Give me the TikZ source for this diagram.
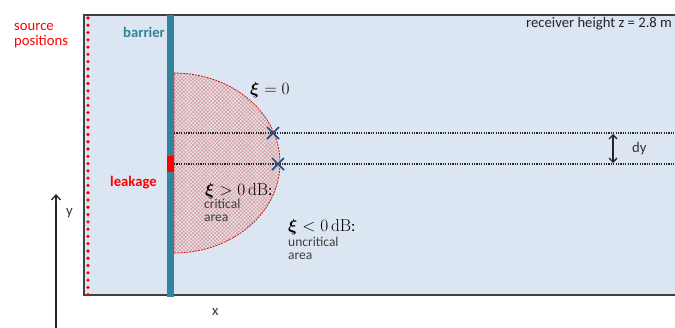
\documentclass[tikz,border=0pt]{standalone}
\usepackage[no-math]{fontspec}
\setmainfont{Carlito}
\usepackage{bm}
\usetikzlibrary{arrows.meta,patterns.meta}
\definecolor{bgblue}{HTML}{DCE6F2}
\definecolor{framegray}{HTML}{404040}
\definecolor{barrierteal}{HTML}{31849B}
\definecolor{crossblue}{HTML}{1F497D}
\definecolor{txtgray}{HTML}{404040}
\definecolor{hatchred}{HTML}{CF9AA1}
\definecolor{hatchbg}{HTML}{ECE2E5}
\tikzset{
  lbl/.style={inner sep=0pt, anchor=base west, font=\fontsize{14.67}{16}\selectfont},
  smalllbl/.style={inner sep=0pt, anchor=base west, font=\fontsize{13.5}{14}\selectfont},
  lblbold/.style={lbl, font=\fontsize{14.67}{16}\selectfont\bfseries},
  mathlbl/.style={inner sep=0pt, anchor=base west, font=\fontsize{16}{18}\selectfont},
  dotline/.style={draw=black!85, line width=1.2pt, dash pattern=on 1.2pt off 1.2pt},
  crossmark/.style={draw=crossblue, line width=1.6pt},
  axisarrow/.style={draw=black!85, line width=1.3pt, -{Straight Barb[length=5pt,width=9pt,line width=1.3pt]}}
}
\begin{document}
\begin{tikzpicture}[x=1pt,y=-1pt]
\useasboundingbox (0,0) rectangle (675,327);
\clip (0,0) rectangle (675,327);
% field
\draw[fill=bgblue, draw=framegray, line width=1.6pt] (84,15) rectangle (690,295);
% critical area
\fill[hatchbg] (174,73) arc[start angle=-90, end angle=90, x radius=106, y radius=90] -- cycle;
\fill[pattern={Hatch[angle=45,distance=2.6pt,line width=0.5pt]}, pattern color=hatchred] (174,73) arc[start angle=-90, end angle=90, x radius=106, y radius=90] -- cycle;
\draw[red!85!black, line width=0.7pt, dash pattern=on 2pt off 1pt] (174,73) arc[start angle=-90, end angle=90, x radius=106, y radius=90] -- cycle;
% source positions
\foreach \i in {0,...,38} {
  \fill[red] (88,18+7.28*\i) circle[radius=1.8pt];
}
% receiver lines
\coordinate (l1a) at (174,133);
\coordinate (l1b) at (680,133);
\coordinate (l2a) at (174,164);
\coordinate (l2b) at (680,164);
\draw[dotline] (l1a) -- (l1b);
\draw[dotline] (l2a) -- (l2b);
% barrier
\fill[barrierteal] (166.5,15) rectangle (174,297);
\fill[red] (166.5,156) rectangle (174,172);
% crosses
\coordinate (c1) at (273,133);
\coordinate (c2) at (278,164);
\draw[crossmark] ([shift={(-6,-6)}]c1) -- ([shift={(6,6)}]c1) ([shift={(-6,6)}]c1) -- ([shift={(6,-6)}]c1);
\draw[crossmark] ([shift={(-6,-6)}]c2) -- ([shift={(6,6)}]c2) ([shift={(-6,6)}]c2) -- ([shift={(6,-6)}]c2);
% dy arrow
\coordinate (dyTop) at (613,134);
\coordinate (dyBot) at (613,163);
\draw[black!85, line width=1.3pt, {Straight Barb[length=4pt,width=8pt,line width=1.3pt]}-{Straight Barb[length=4pt,width=8pt,line width=1.3pt]}] (dyTop) -- (dyBot);
\node[lbl, text=black!80] (dy) at (632,152) {dy};
% axes
\coordinate (origin) at (56,333);
\coordinate (yend) at (56,194);
\coordinate (xend) at (223,333);
\draw[axisarrow] (origin) -- (yend);
\draw[axisarrow] (origin) -- (xend);
\node[lbl, text=black!80] (ylab) at (66,215) {y};
\node[lbl, text=black!80] (xlab) at (212,315) {x};
% labels
\node[lbl, text=red] (src1) at (14,30) {source};
\node[lbl, text=red] (src2) at (14,45) {positions};
\node[lblbold, text=barrierteal] (barrier) at (123,37) {barrier};
\node[lblbold, text=red] (leak) at (110,186) {leakage};
\node[lbl, text=black!85] (recv) at (526,27) {receiver height z = 2.8 m};
\node[mathlbl] (xi0) at (250,94) {$\bm{\xi} = 0$};
\node[mathlbl] (xipos) at (205,195) {$\bm{\xi} > 0\,\mathrm{dB}$:};
\node[smalllbl, text=txtgray] (crit1) at (204,208) {critical};
\node[smalllbl, text=txtgray] (crit2) at (204,221) {area};
\node[mathlbl] (xineg) at (288,231) {$\bm{\xi} < 0\,\mathrm{dB}$:};
\node[smalllbl, text=txtgray] (unc1) at (288,246) {uncritical};
\node[smalllbl, text=txtgray] (unc2) at (288,259) {area};
\end{tikzpicture}
\end{document}
